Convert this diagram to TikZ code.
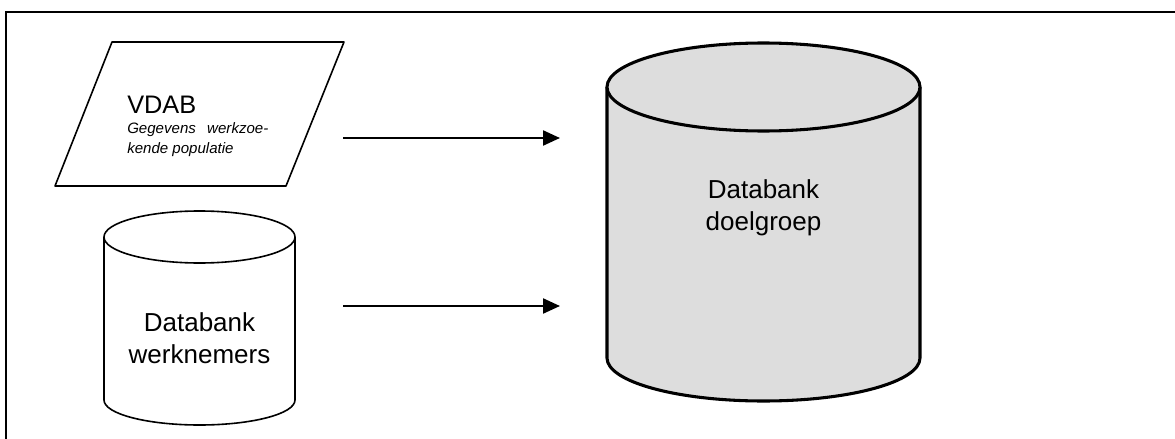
\documentclass[tikz,border=0pt]{standalone}
\usepackage{fontspec}
\setmainfont{Liberation Sans}
\usepackage{tikz}
\usetikzlibrary{arrows.meta, positioning}

\definecolor{dbgray}{RGB}{221,221,221}

\tikzset{
	frame/.style={line width=1.5pt},
	datashape/.style={line width=1.2pt, line join=round},
	dbshape/.style={line width=2.3pt, line join=round, fill=dbgray},
	flow/.style={line width=1.7pt, -{Triangle[length=12.75pt, width=11.25pt]}},
	bigtext/.style={inner sep=0pt, align=center, font=\fontsize{19.5}{24}\selectfont},
	titletext/.style={inner sep=0pt, font=\fontsize{19}{23}\selectfont},
	smalltext/.style={inner sep=0pt, align=left, font=\fontsize{11.3}{15}\selectfont\itshape}
}

\begin{document}
\begin{tikzpicture}[x=0.75pt, y=-0.75pt]
			\useasboundingbox (0,0) rectangle (1175,439);
			
			% frame
			\draw[frame] (6,439) -- (6,12) -- (1175,12);
			
			% VDAB input
			\draw[datashape] (112,42) -- (344,42) -- (286,186) -- (55,186) -- cycle;
			\node[titletext, anchor=base west] (vdab) at (127,113) {VDAB};
			\node[smalltext, anchor=north west] (vdabinfo) at (127,122) {Gegevens\hspace{0.75em}werkzoe-\\kende populatie};
			
			% databank werknemers
			\draw[datashape] (104,237) -- (104,400) arc[start angle=180, end angle=0, x radius=95.5, y radius=25] -- (295,237);
			\draw[datashape] (199.5,237) ellipse [x radius=95.5, y radius=26];
			\node[bigtext, anchor=north] (werknemers) at (199.5,312) {Databank\\werknemers};
			
			% databank doelgroep
			\draw[dbshape] (607,87) -- (607,358) arc[start angle=180, end angle=0, x radius=156.5, y radius=43] -- (920,87) arc[start angle=0, end angle=-180, x radius=156.5, y radius=44] -- cycle;
			\draw[dbshape] (607,87) arc[start angle=180, end angle=0, x radius=156.5, y radius=44];
			\node[bigtext, anchor=north] (doelgroep) at (763.5,179) {Databank\\doelgroep};
			
			% arrows
			\coordinate (vdabout) at (343,138);
			\coordinate (werknout) at (343,306);
			\coordinate (doelin1) at (560,138);
			\coordinate (doelin2) at (560,306);
			\draw[flow] (vdabout) -- (doelin1);
			\draw[flow] (werknout) -- (doelin2);
\end{tikzpicture}
\end{document}
